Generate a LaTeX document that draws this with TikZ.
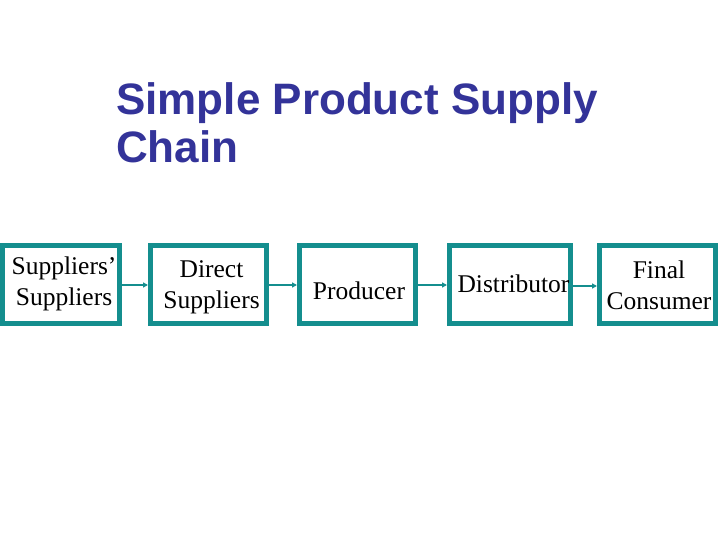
\documentclass[tikz,border=0pt]{standalone}
\usepackage{fontspec}
\setmainfont{Liberation Serif}
\newfontfamily\titlefont{Liberation Sans}
\usetikzlibrary{arrows.meta}
\definecolor{teal1}{RGB}{20,142,142}
\definecolor{titleblue}{RGB}{51,51,153}
\tikzset{
  chainbox/.style={draw=teal1, line width=5pt, fill=white, inner sep=0pt, minimum height=78pt},
  boxtext/.style={inner sep=0pt, align=center, font=\fontsize{25.5}{31}\selectfont},
  flow/.style={draw=teal1, line width=1.8pt, -{Triangle[length=5pt,width=5pt]}},
  titletext/.style={inner sep=0pt, anchor=base west, align=left, text=titleblue,
    font=\titlefont\bfseries\fontsize{44}{48}\selectfont}
}
\begin{document}
\begin{tikzpicture}[x=1pt,y=-1pt]
\useasboundingbox (0,0) rectangle (720,540);
\node[titletext] (title) at (116,163) {Simple Product Supply\\Chain};

\node[chainbox, minimum width=117pt] (b1) at (61,284.5) {};
\node[chainbox, minimum width=116pt] (b2) at (208.5,284.5) {};
\node[chainbox, minimum width=116pt] (b3) at (357.5,284.5) {};
\node[chainbox, minimum width=121pt] (b4) at (510,284.5) {};
\node[chainbox, minimum width=116pt] (b5) at (657.5,284.5) {};

\node[boxtext] (t1) at (64,284) {Suppliers'\\Suppliers};
\node[boxtext] (t2) at (211.5,287.5) {Direct\\Suppliers};
\node[boxtext, anchor=base] (t3) at (359,299) {Producer};
\node[boxtext, anchor=base] (t4) at (513.5,292) {Distributor};
\node[boxtext] (t5) at (659,285) {Final\\Consumer};

\draw[flow] (b1.east |- 0,285) -- (b2.west |- 0,285);
\draw[flow] (b2.east |- 0,285) -- (b3.west |- 0,285);
\draw[flow] (b3.east |- 0,285) -- (b4.west |- 0,285);
\draw[flow] (b4.east |- 0,286) -- (b5.west |- 0,286);
\end{tikzpicture}
\end{document}
